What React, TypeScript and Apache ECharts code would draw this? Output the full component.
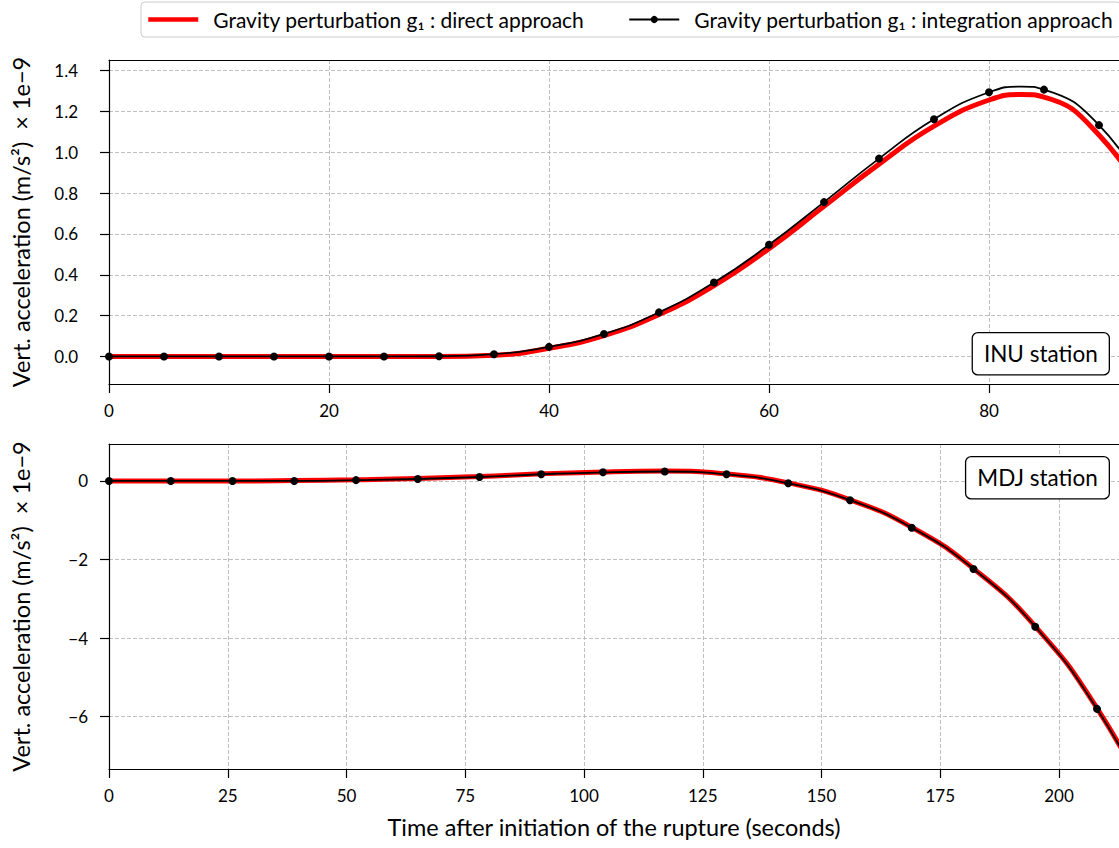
import React, { useEffect, useRef } from 'react';
import * as echarts from 'echarts';

// INU station (top panel); markers every 5 s, plus the read peak at 83 s (no marker)
const inuTime = [0, 5, 10, 15, 20, 25, 30, 35, 40, 45, 50, 55, 60, 65, 70, 75, 80, 83, 85, 90, 95];
const inuIntegration = [0, 0, 0, 0, 0, 0, 0.001, 0.011, 0.047, 0.11, 0.216, 0.362, 0.547, 0.756, 0.969, 1.162, 1.294, 1.322, 1.307, 1.133, 0.75];
const inuDirect = [0, 0, 0, 0, 0, 0, 0, 0.006, 0.04, 0.102, 0.205, 0.347, 0.528, 0.735, 0.942, 1.128, 1.256, 1.283, 1.27, 1.085, 0.7];
const inuMarkerless = [83];
const inuXTicks = [0, 20, 40, 60, 80];
const inuYTicks = [0, 0.2, 0.4, 0.6, 0.8, 1.0, 1.2, 1.4];

// MDJ station (bottom panel); markers every 13 s
const mdjTime = [0, 13, 26, 39, 52, 65, 78, 91, 104, 117, 130, 143, 156, 169, 182, 195, 208, 221];
const mdjIntegration = [0, 0, 0, 0, 0.02, 0.05, 0.1, 0.17, 0.22, 0.24, 0.17, -0.06, -0.49, -1.19, -2.24, -3.71, -5.8, -8.6];
const mdjDirect = [0, 0, 0, 0.01, 0.03, 0.06, 0.11, 0.18, 0.23, 0.25, 0.18, -0.05, -0.48, -1.18, -2.23, -3.7, -5.78, -8.6];
const mdjXTicks = [0, 25, 50, 75, 100, 125, 150, 175, 200];
const mdjYTicks = [-6, -4, -2, 0];

const nameDirect = 'Gravity perturbation g\u2081 : direct approach';
const nameIntegration = 'Gravity perturbation g\u2081 : integration approach';
const yName = 'Vert. acceleration (m/s\u00b2)  \u00d7 1e\u22129';
const xName = 'Time after initiation of the rupture (seconds)';

const zip = (xs: number[], ys: number[]) => xs.map((x, i) => [x, ys[i]]);
const zipMarked = (xs: number[], ys: number[], hidden: number[]) =>
  xs.map((x, i) => (hidden.includes(x) ? { value: [x, ys[i]], symbol: 'none' } : [x, ys[i]]));

export default function App() {
  const ref = useRef<HTMLDivElement>(null);
  useEffect(() => {
    const chart = echarts.init(ref.current!, null, { renderer: 'svg' });
    const font = 'Lato, "DejaVu Sans", sans-serif';
    const axisLine = { show: true, onZero: false, lineStyle: { color: '#000', width: 1.2 } };
    const tick = { show: true, inside: false, length: 9, lineStyle: { color: '#000', width: 1.2 } };
    const split = { show: true, lineStyle: { color: '#b8b8b8', type: [4, 2], width: 0.9 } };
    const labelStyle = { color: '#000', fontSize: 17, fontFamily: font };
    const nameStyle = { color: '#000', fontSize: 23.5, fontFamily: font };
    const spine = (gridIndex: number, max: number) => ({
      type: 'value', gridIndex, position: 'top', min: 0, max,
      axisLine, axisTick: { show: false }, axisLabel: { show: false }, splitLine: { show: false },
    });
    const minusFmt = (v: number) => (v < 0 ? '\u2212' + Math.abs(v) : String(v));
    const boxStyle = {
      fontSize: 22.5, fontFamily: font, fill: '#000',
      backgroundColor: '#fff', borderColor: '#000', borderWidth: 1.3, borderRadius: 5, padding: [9, 11, 9, 11],
    };

    chart.setOption({
      animation: false,
      backgroundColor: '#fff',
      legend: {
        left: 141, top: 2, width: 1300, orient: 'horizontal',
        itemWidth: 50, itemHeight: 9, itemGap: 44,
        padding: [7, 8, 7, 5],
        borderColor: '#cccccc', borderWidth: 1, borderRadius: 4,
        textStyle: { fontSize: 21, fontFamily: font, color: '#000', padding: [0, 0, 0, 10] },
        data: [
          { name: nameDirect, itemStyle: { color: 'rgba(0,0,0,0)', borderWidth: 0 }, lineStyle: { width: 4.5 } },
          { name: nameIntegration, lineStyle: { width: 1.8 } },
        ],
      },
      grid: [
        { left: 109, top: 60, width: 1010, height: 324 },
        { left: 109, top: 444, width: 1010, height: 325 },
      ],
      xAxis: [
        {
          type: 'value', gridIndex: 0, min: 0, max: 1010 / 11,
          axisLine, axisTick: { ...tick, customValues: inuXTicks },
          axisLabel: { ...labelStyle, margin: 18, customValues: inuXTicks, formatter: (v: number) => String(v) },
          splitLine: split,
        },
        spine(0, 1010 / 11),
        {
          type: 'value', gridIndex: 1, min: 0, max: 1010 / 4.75,
          name: xName, nameLocation: 'middle', nameGap: 46, nameTextStyle: nameStyle,
          axisLine, axisTick: { ...tick, customValues: mdjXTicks },
          axisLabel: { ...labelStyle, margin: 18, customValues: mdjXTicks, formatter: (v: number) => String(v) },
          splitLine: split,
        },
        spine(1, 1010 / 4.75),
      ],
      yAxis: [
        {
          type: 'value', gridIndex: 0, min: -0.135, max: 1.452,
          name: yName, nameLocation: 'middle', nameGap: 76, nameRotate: 90, nameTextStyle: nameStyle,
          axisLine, axisTick: { ...tick, customValues: inuYTicks },
          axisLabel: { ...labelStyle, margin: 31, customValues: inuYTicks, formatter: (v: number) => v.toFixed(1) },
          splitLine: split,
        },
        {
          type: 'value', gridIndex: 1, min: -7.33, max: 0.94,
          name: yName, nameLocation: 'middle', nameGap: 76, nameRotate: 90, nameTextStyle: nameStyle,
          axisLine, axisTick: { ...tick, customValues: mdjYTicks },
          axisLabel: { ...labelStyle, margin: 21, customValues: mdjYTicks, formatter: minusFmt },
          splitLine: split,
        },
      ],
      series: [
        {
          name: nameDirect, type: 'line', xAxisIndex: 0, yAxisIndex: 0, smooth: true,
          symbol: 'none', lineStyle: { color: '#ff0000', width: 5 }, itemStyle: { color: '#ff0000' },
          data: zip(inuTime, inuDirect), z: 2,
        },
        {
          name: nameIntegration, type: 'line', xAxisIndex: 0, yAxisIndex: 0, smooth: true,
          symbol: 'circle', symbolSize: 8, lineStyle: { color: '#000', width: 1.8 }, itemStyle: { color: '#000' },
          data: zipMarked(inuTime, inuIntegration, inuMarkerless), z: 3,
        },
        {
          name: nameDirect, type: 'line', xAxisIndex: 2, yAxisIndex: 1, smooth: true,
          symbol: 'none', lineStyle: { color: '#ff0000', width: 5 }, itemStyle: { color: '#ff0000' },
          data: zip(mdjTime, mdjDirect), z: 2,
        },
        {
          name: nameIntegration, type: 'line', xAxisIndex: 2, yAxisIndex: 1, smooth: true,
          symbol: 'circle', symbolSize: 8, lineStyle: { color: '#000', width: 1.8 }, itemStyle: { color: '#000' },
          data: zip(mdjTime, mdjIntegration), z: 3,
        },
      ],
      graphic: [
        { type: 'text', right: 9, top: 332, z: 100, style: { ...boxStyle, text: 'INU station' } },
        { type: 'text', right: 9, top: 456, z: 100, style: { ...boxStyle, text: 'MDJ station' } },
      ],
    });
    return () => chart.dispose();
  }, []);
  return <div ref={ref} style={{ position: 'fixed', left: 0, top: 0, width: 1119, height: 848 }} />;
}
